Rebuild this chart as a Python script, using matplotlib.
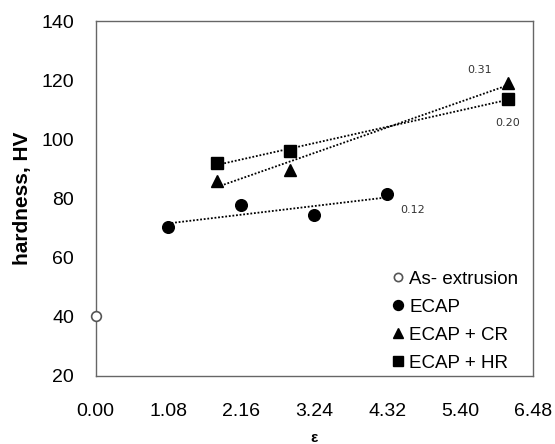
import numpy as np
import matplotlib.pyplot as plt

plt.rcParams['font.family'] = ['Liberation Sans', 'DejaVu Sans']

# data
ext_x = [0.0]
ext_y = [40.3]
ecap_x = [1.07, 2.16, 3.24, 4.32]
ecap_y = [70.5, 77.7, 74.4, 81.4]
cr_x = [1.80, 2.88, 6.11]
cr_y = [86.0, 89.8, 119.1]
hr_x = [1.80, 2.88, 6.11]
hr_y = [92.1, 96.0, 113.7]

xticks = [0.0, 1.08, 2.16, 3.24, 4.32, 5.40, 6.48]
yticks = [20, 40, 60, 80, 100, 120, 140]

# small numbers written next to the trend lines
notes = ['0.12', '0.31', '0.20']
note_x = [4.69, 5.69, 6.11]
note_y = [76.1, 123.5, 105.6]

fig = plt.figure(figsize=(5.55, 4.44), dpi=100)
ax = fig.add_axes([0.1724, 0.1538, 0.788, 0.798])

# dotted linear trend lines
for xs, ys in [(ecap_x, ecap_y), (cr_x, cr_y), (hr_x, hr_y)]:
    k, b = np.polyfit(xs, ys, 1)
    xx = np.array([min(xs), max(xs)])
    ax.plot(xx, k*xx + b, color='black', lw=1.3, ls=(0, (1, 1)), zorder=1)

ax.plot(ext_x, ext_y, 'o', ms=7, mfc='white', mec='#555555', mew=1.2,
        ls='none', label='As- extrusion', clip_on=False, zorder=3)
ax.plot(ecap_x, ecap_y, 'o', ms=8.4, color='black', ls='none', label='ECAP', zorder=3)
ax.plot(cr_x, cr_y, '^', ms=9, color='black', ls='none', label='ECAP + CR', zorder=3)
ax.plot(hr_x, hr_y, 's', ms=8.4, color='black', ls='none', label='ECAP + HR', zorder=3)

for t, x, y in zip(notes, note_x, note_y):
    ax.text(x, y, t, fontsize=8, color='#333333', family='DejaVu Sans',
            ha='center', va='center')

ax.set_xlim(0, 6.48)
ax.set_ylim(20, 140)
ax.set_xticks(xticks)
ax.set_xticklabels(['%.2f' % v for v in xticks])
ax.set_yticks(yticks)
ax.tick_params(length=0, labelsize=14)
ax.tick_params(axis='y', pad=15.5)
ax.tick_params(axis='x', pad=19.5)
for s in ax.spines.values():
    s.set_color('#666666')
    s.set_linewidth(1.0)

ax.set_ylabel('hardness, HV', fontsize=15, fontweight='bold', labelpad=7)
ax.set_xlabel('ε', fontsize=11, fontweight='bold', labelpad=8)

ax.legend(loc='center left', bbox_to_anchor=(0.702, 0.277),
          bbox_transform=fig.transFigure, frameon=False, markerscale=0.85,
          fontsize=13.5, handletextpad=0.15, handlelength=0.9,
          labelspacing=0.58, borderaxespad=0, borderpad=0)

fig.savefig('out.png', dpi=100)
